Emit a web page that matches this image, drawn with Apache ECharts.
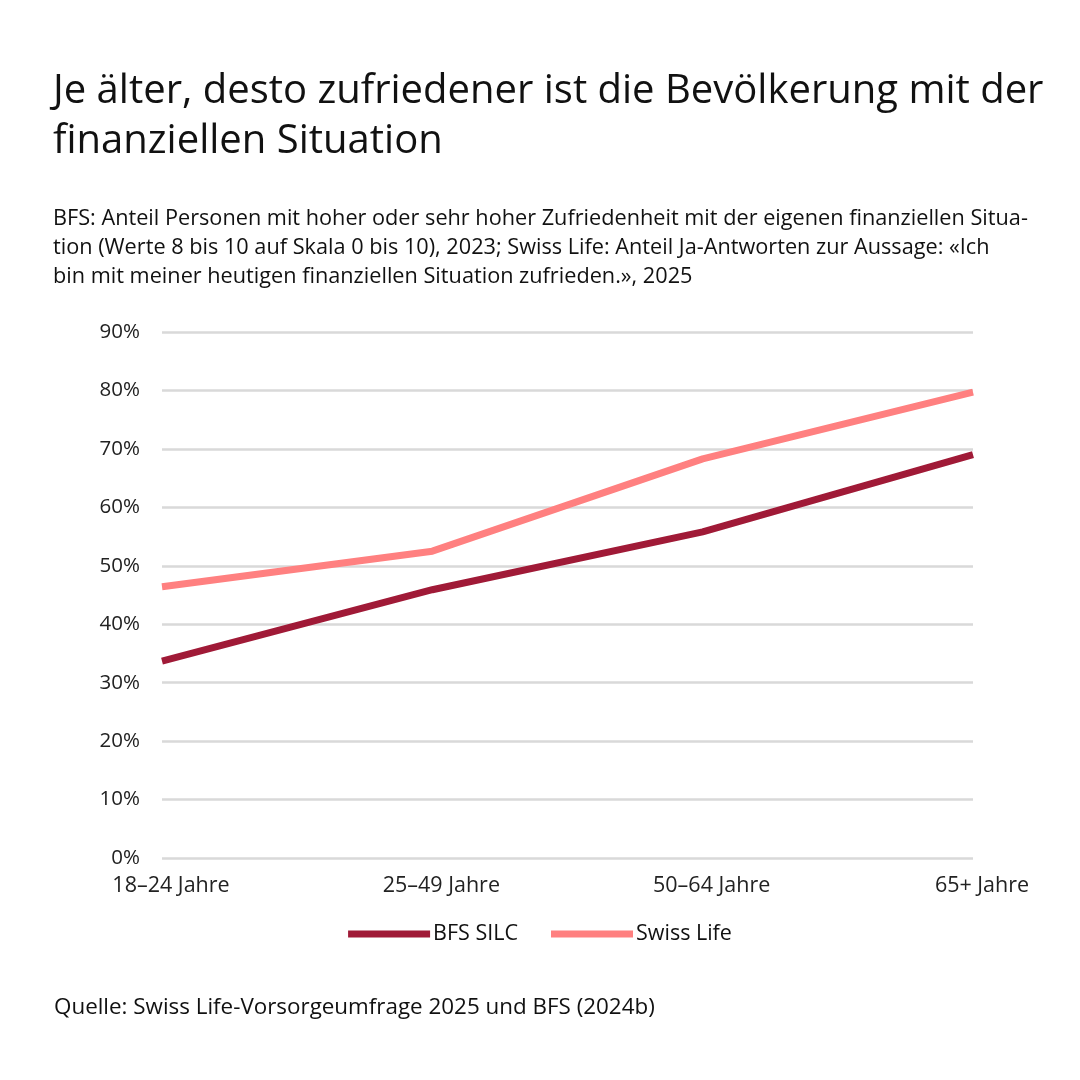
<!DOCTYPE html>
<html>
<head>
<meta charset="utf-8">
<script src="https://cdn.jsdelivr.net/npm/echarts@6/dist/echarts.min.js"></script>
<style>
  html, body { margin: 0; padding: 0; background: #fff; }
  #chart { width: 1080px; height: 1080px; }
</style>
</head>
<body>
<div id="chart"></div>
<script>
const categories = ['18–24 Jahre', '25–49 Jahre', '50–64 Jahre', '65+ Jahre']
const bfsSilc = [33.7, 45.9, 55.8, 69.0]
const swissLife = [46.4, 52.5, 68.3, 79.7]
const yTicks = { min: 0, max: 90, interval: 10 }

const fontFamily = '"Open Sans", Lato, sans-serif'
const chart = echarts.init(document.getElementById('chart'))

const option = {
  backgroundColor: '#fff',
  textStyle: { fontFamily },
  title: [
    {
      text: 'Je älter, desto zufriedener ist die Bevölkerung mit der\nfinanziellen Situation',
      left: 48,
      top: 62,
      textStyle: { fontSize: 40, fontWeight: 'normal', color: '#111', lineHeight: 50, fontFamily }
    },
    {
      text: 'BFS: Anteil Personen mit hoher oder sehr hoher Zufriedenheit mit der eigenen finanziellen Situa-\ntion (Werte 8 bis 10 auf Skala 0 bis 10), 2023; Swiss Life: Anteil Ja-Antworten zur Aussage: «Ich\nbin mit meiner heutigen finanziellen Situation zufrieden.», 2025',
      left: 48,
      top: 199,
      textStyle: { fontSize: 21.7, fontWeight: 'normal', color: '#111', lineHeight: 29, fontFamily }
    },
    {
      text: 'Quelle: Swiss Life-Vorsorgeumfrage 2025 und BFS (2024b)',
      left: 49,
      top: 992,
      textStyle: { fontSize: 22.4, fontWeight: 'normal', color: '#111', fontFamily }
    }
  ],
  legend: {
    left: 'center',
    top: 918,
    icon: 'rect',
    itemWidth: 82,
    itemHeight: 7,
    itemGap: 33,
    textStyle: { fontSize: 21.5, color: '#111', padding: [0, 0, 0, -2] },
    data: ['BFS SILC', 'Swiss Life']
  },
  grid: { left: 162, right: 107, top: 332, bottom: 222, containLabel: false },
  xAxis: {
    type: 'category',
    data: categories,
    boundaryGap: false,
    axisLine: { show: false },
    axisTick: { show: false },
    // labels in the original sit a bit right of their points
    axisLabel: { fontSize: 21.5, color: '#222', margin: 17, padding: [0, 0, 0, 18] }
  },
  yAxis: {
    type: 'value',
    min: yTicks.min,
    max: yTicks.max,
    interval: yTicks.interval,
    axisLine: { show: false },
    axisTick: { show: false },
    axisLabel: { fontSize: 20.5, color: '#222', margin: 22, formatter: '{value}%' },
    splitLine: { lineStyle: { color: '#d9d9d9', width: 2.5 } }
  },
  series: [
    {
      name: 'BFS SILC',
      type: 'line',
      data: bfsSilc,
      symbol: 'none',
      color: '#a01a37',
      lineStyle: { width: 7, color: '#a01a37' }
    },
    {
      name: 'Swiss Life',
      type: 'line',
      data: swissLife,
      symbol: 'none',
      color: '#ff8080',
      lineStyle: { width: 7, color: '#ff8080' }
    }
  ]
}

chart.setOption(option)
</script>
</body>
</html>
